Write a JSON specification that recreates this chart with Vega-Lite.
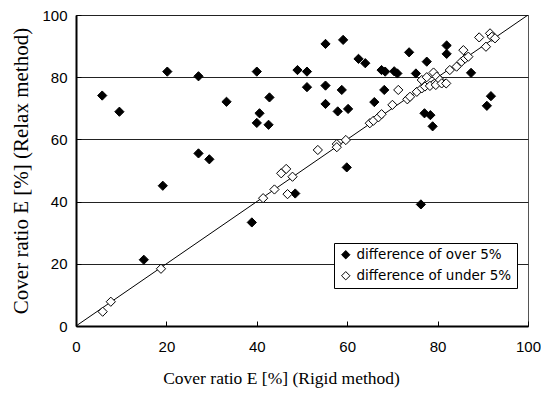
{
  "$schema": "https://vega.github.io/schema/vega-lite/v6.json",
  "width": 452,
  "height": 311,
  "autosize": {"type": "none"},
  "padding": {"left": 76, "top": 15, "right": 13, "bottom": 68},
  "background": "white",
  "config": {
    "view": {"stroke": "#555", "strokeWidth": 1},
    "font": "Liberation Sans"
  },
  "datasets": {
    "pts": [
      {"rigid": 5.8, "relax": 74.1, "group": "difference of over 5%"},
      {"rigid": 9.6, "relax": 68.9, "group": "difference of over 5%"},
      {"rigid": 20.2, "relax": 81.8, "group": "difference of over 5%"},
      {"rigid": 27.1, "relax": 80.3, "group": "difference of over 5%"},
      {"rigid": 33.3, "relax": 72.1, "group": "difference of over 5%"},
      {"rigid": 27.1, "relax": 55.5, "group": "difference of over 5%"},
      {"rigid": 29.5, "relax": 53.6, "group": "difference of over 5%"},
      {"rigid": 19.2, "relax": 45.1, "group": "difference of over 5%"},
      {"rigid": 15.0, "relax": 21.3, "group": "difference of over 5%"},
      {"rigid": 38.9, "relax": 33.3, "group": "difference of over 5%"},
      {"rigid": 40.0, "relax": 81.8, "group": "difference of over 5%"},
      {"rigid": 42.8, "relax": 73.5, "group": "difference of over 5%"},
      {"rigid": 40.6, "relax": 68.4, "group": "difference of over 5%"},
      {"rigid": 40.0, "relax": 65.3, "group": "difference of over 5%"},
      {"rigid": 42.6, "relax": 64.7, "group": "difference of over 5%"},
      {"rigid": 49.0, "relax": 82.3, "group": "difference of over 5%"},
      {"rigid": 51.1, "relax": 81.8, "group": "difference of over 5%"},
      {"rigid": 51.1, "relax": 76.8, "group": "difference of over 5%"},
      {"rigid": 55.2, "relax": 90.7, "group": "difference of over 5%"},
      {"rigid": 59.1, "relax": 92.0, "group": "difference of over 5%"},
      {"rigid": 62.5, "relax": 85.9, "group": "difference of over 5%"},
      {"rigid": 64.0, "relax": 84.5, "group": "difference of over 5%"},
      {"rigid": 55.2, "relax": 77.3, "group": "difference of over 5%"},
      {"rigid": 58.8, "relax": 75.9, "group": "difference of over 5%"},
      {"rigid": 55.2, "relax": 71.4, "group": "difference of over 5%"},
      {"rigid": 57.9, "relax": 69.0, "group": "difference of over 5%"},
      {"rigid": 60.2, "relax": 69.8, "group": "difference of over 5%"},
      {"rigid": 66.0, "relax": 72.0, "group": "difference of over 5%"},
      {"rigid": 59.9, "relax": 51.0, "group": "difference of over 5%"},
      {"rigid": 48.5, "relax": 42.6, "group": "difference of over 5%"},
      {"rigid": 76.3, "relax": 39.1, "group": "difference of over 5%"},
      {"rigid": 67.6, "relax": 82.3, "group": "difference of over 5%"},
      {"rigid": 68.4, "relax": 81.8, "group": "difference of over 5%"},
      {"rigid": 70.4, "relax": 81.9, "group": "difference of over 5%"},
      {"rigid": 71.1, "relax": 81.2, "group": "difference of over 5%"},
      {"rigid": 73.7, "relax": 88.0, "group": "difference of over 5%"},
      {"rigid": 77.6, "relax": 85.0, "group": "difference of over 5%"},
      {"rigid": 75.2, "relax": 81.2, "group": "difference of over 5%"},
      {"rigid": 82.0, "relax": 90.2, "group": "difference of over 5%"},
      {"rigid": 82.0, "relax": 87.5, "group": "difference of over 5%"},
      {"rigid": 87.4, "relax": 81.4, "group": "difference of over 5%"},
      {"rigid": 68.2, "relax": 75.9, "group": "difference of over 5%"},
      {"rigid": 77.1, "relax": 68.4, "group": "difference of over 5%"},
      {"rigid": 78.4, "relax": 67.8, "group": "difference of over 5%"},
      {"rigid": 78.9, "relax": 64.2, "group": "difference of over 5%"},
      {"rigid": 91.8, "relax": 73.9, "group": "difference of over 5%"},
      {"rigid": 90.9, "relax": 70.8, "group": "difference of over 5%"},
      {"rigid": 5.9, "relax": 4.6, "group": "difference of under 5%"},
      {"rigid": 7.7, "relax": 7.8, "group": "difference of under 5%"},
      {"rigid": 18.8, "relax": 18.4, "group": "difference of under 5%"},
      {"rigid": 41.4, "relax": 41.1, "group": "difference of under 5%"},
      {"rigid": 43.9, "relax": 43.9, "group": "difference of under 5%"},
      {"rigid": 45.4, "relax": 49.1, "group": "difference of under 5%"},
      {"rigid": 46.5, "relax": 50.5, "group": "difference of under 5%"},
      {"rigid": 47.9, "relax": 48.0, "group": "difference of under 5%"},
      {"rigid": 46.8, "relax": 42.4, "group": "difference of under 5%"},
      {"rigid": 53.5, "relax": 56.6, "group": "difference of under 5%"},
      {"rigid": 57.7, "relax": 58.5, "group": "difference of under 5%"},
      {"rigid": 57.7, "relax": 57.5, "group": "difference of under 5%"},
      {"rigid": 59.7, "relax": 59.8, "group": "difference of under 5%"},
      {"rigid": 65.0, "relax": 65.2, "group": "difference of under 5%"},
      {"rigid": 65.8, "relax": 66.0, "group": "difference of under 5%"},
      {"rigid": 66.9, "relax": 67.1, "group": "difference of under 5%"},
      {"rigid": 67.6, "relax": 68.1, "group": "difference of under 5%"},
      {"rigid": 70.0, "relax": 71.1, "group": "difference of under 5%"},
      {"rigid": 71.3, "relax": 75.9, "group": "difference of under 5%"},
      {"rigid": 73.3, "relax": 72.9, "group": "difference of under 5%"},
      {"rigid": 73.9, "relax": 73.7, "group": "difference of under 5%"},
      {"rigid": 75.4, "relax": 75.3, "group": "difference of under 5%"},
      {"rigid": 76.5, "relax": 76.4, "group": "difference of under 5%"},
      {"rigid": 77.2, "relax": 77.0, "group": "difference of under 5%"},
      {"rigid": 78.3, "relax": 77.2, "group": "difference of under 5%"},
      {"rigid": 76.5, "relax": 79.1, "group": "difference of under 5%"},
      {"rigid": 77.6, "relax": 80.0, "group": "difference of under 5%"},
      {"rigid": 79.1, "relax": 81.5, "group": "difference of under 5%"},
      {"rigid": 79.8, "relax": 80.2, "group": "difference of under 5%"},
      {"rigid": 80.5, "relax": 79.1, "group": "difference of under 5%"},
      {"rigid": 79.6, "relax": 77.5, "group": "difference of under 5%"},
      {"rigid": 80.9, "relax": 78.0, "group": "difference of under 5%"},
      {"rigid": 81.9, "relax": 78.0, "group": "difference of under 5%"},
      {"rigid": 82.7, "relax": 82.3, "group": "difference of under 5%"},
      {"rigid": 84.2, "relax": 83.4, "group": "difference of under 5%"},
      {"rigid": 85.3, "relax": 85.0, "group": "difference of under 5%"},
      {"rigid": 86.1, "relax": 86.0, "group": "difference of under 5%"},
      {"rigid": 86.8, "relax": 86.6, "group": "difference of under 5%"},
      {"rigid": 85.7, "relax": 88.7, "group": "difference of under 5%"},
      {"rigid": 89.2, "relax": 92.8, "group": "difference of under 5%"},
      {"rigid": 90.7, "relax": 89.8, "group": "difference of under 5%"},
      {"rigid": 91.6, "relax": 94.1, "group": "difference of under 5%"},
      {"rigid": 92.0, "relax": 93.0, "group": "difference of under 5%"},
      {"rigid": 92.7, "relax": 92.5, "group": "difference of under 5%"}
    ],
    "diag": [
      {"rigid": 0, "relax": 0},
      {"rigid": 100, "relax": 100}
    ]
  },
  "layer": [
    {
      "data": {"name": "diag"},
      "mark": {"type": "line", "color": "black", "strokeWidth": 1, "clip": true},
      "encoding": {
        "x": {"field": "rigid", "type": "quantitative", "scale": {"domain": [0, 100], "nice": false},
          "axis": {
            "title": "Cover ratio E  [%] (Rigid method)",
            "titleFont": "Liberation Serif", "titleFontSize": 17.5, "titleFontWeight": "normal", "titleColor": "black",
            "titlePadding": 15,
            "titleX": 205,
            "values": [0, 20, 40, 60, 80, 100],
            "labelFont": "Liberation Sans", "labelFontSize": 15, "labelColor": "black", "labelPadding": 18,
            "labelFlush": false,
            "grid": false,
            "domainColor": "black", "domainWidth": 2,
            "tickColor": "black", "tickSize": -5, "tickWidth": 1
          }
        },
        "y": {"field": "relax", "type": "quantitative", "scale": {"domain": [0, 100], "nice": false},
          "axis": {
            "title": "Cover ratio E  [%] (Relax method)",
            "titleFont": "Liberation Serif", "titleFontSize": 21, "titleFontWeight": "normal", "titleColor": "black",
            "titlePadding": 10,
            "values": [0, 20, 40, 60, 80, 100],
            "labelFont": "Liberation Sans", "labelFontSize": 15, "labelColor": "black", "labelPadding": 14,
            "labelFlush": false,
            "grid": true, "gridColor": "#222", "gridWidth": 1,
            "domainColor": "black", "domainWidth": 2,
            "tickColor": "black", "tickSize": -5, "tickWidth": 1
          }
        }
      }
    },
    {
      "data": {"name": "pts"},
      "mark": {"type": "point", "shape": "diamond", "filled": true, "stroke": "black", "strokeWidth": 1, "size": 85, "opacity": 1},
      "encoding": {
        "x": {"field": "rigid", "type": "quantitative"},
        "y": {"field": "relax", "type": "quantitative"},
        "fill": {
          "field": "group", "type": "nominal",
          "scale": {"domain": ["difference of over 5%", "difference of under 5%"], "range": ["black", "white"]},
          "legend": {
            "title": null,
            "orient": "none",
            "legendX": 258,
            "legendY": 228,
            "direction": "vertical",
            "symbolType": "diamond",
            "symbolSize": 70,
            "symbolStrokeColor": "black",
            "symbolStrokeWidth": 1,
            "labelFont": "DejaVu Sans",
            "labelFontSize": 13.5,
            "labelColor": "black",
            "rowPadding": 6,
            "padding": 5,
            "strokeColor": "black",
            "fillColor": "white",
            "cornerRadius": 0
          }
        }
      }
    }
  ]
}
